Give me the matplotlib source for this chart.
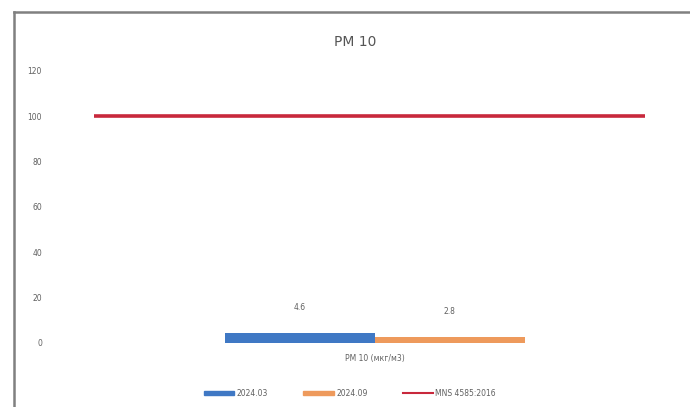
import matplotlib.pyplot as plt
from matplotlib.lines import Line2D
from matplotlib.patches import Patch

# data
category = 'PM 10 (мкг/м3)'
series_names = ['2024.03', '2024.09']
series_values = [4.6, 2.8]
standard_name = 'MNS 4585:2016'
standard_value = 100
yticks = [0, 20, 40, 60, 80, 100, 120]

bar_colors = ['#3F78C4', '#EE9A5C']
line_color = '#C8283C'
text_color = '#606060'

fig = plt.figure(figsize=(6.9, 4.07), dpi=100)
ax = fig.add_axes([67 / 690, 1 - 343 / 407, (675 - 67) / 690, (343 - 71) / 407])

# bars: one category, two series side by side
width = 1.0
offsets = [-width / 2, width / 2]
for name, val, off, c in zip(series_names, series_values, offsets, bar_colors):
    ax.bar(off, val, width=width, color=c, label=name)
    ax.text(off, val + 9, f'{val}', ha='center', va='bottom', fontsize=5.5, color=text_color)

# standard line across the category
ax.plot([-1.867, 1.8], [standard_value, standard_value], color=line_color, lw=2.6,
        solid_capstyle='butt', label=standard_name)

ax.set_xlim(-2.05, 2.0)
ax.set_ylim(0, 120)
ax.set_yticks(yticks)
ax.set_yticklabels([str(t) for t in yticks], fontsize=5.5, color=text_color)
ax.tick_params(axis='y', length=0, pad=18)
ax.set_xticks([0])
ax.set_xticklabels([category], fontsize=5.5, color=text_color)
ax.tick_params(axis='x', length=0, pad=8)
for s in ax.spines.values():
    s.set_visible(False)

fig.text(355 / 690, 1 - 42 / 407, 'PM 10', ha='center', va='center', fontsize=10, color='#555555')

handles = [Patch(color=bar_colors[0], label=series_names[0]),
           Patch(color=bar_colors[1], label=series_names[1]),
           Line2D([], [], color=line_color, lw=1.5, label=standard_name)]
fig.legend(handles=handles, loc='center', bbox_to_anchor=(350 / 690, 1 - 393 / 407), ncol=3,
           frameon=False, fontsize=5.5, handlelength=4.0, handleheight=0.5, columnspacing=4.6,
           handletextpad=0.3, labelcolor=text_color)

# scanned page border (left and top)
fig.add_artist(Line2D([14 / 690, 14 / 690], [0, 1 - 12 / 407], transform=fig.transFigure,
                      color='#808080', lw=1.8))
fig.add_artist(Line2D([14 / 690, 1], [1 - 12 / 407, 1 - 12 / 407], transform=fig.transFigure,
                      color='#808080', lw=1.8))

fig.savefig('out.png', dpi=100)
